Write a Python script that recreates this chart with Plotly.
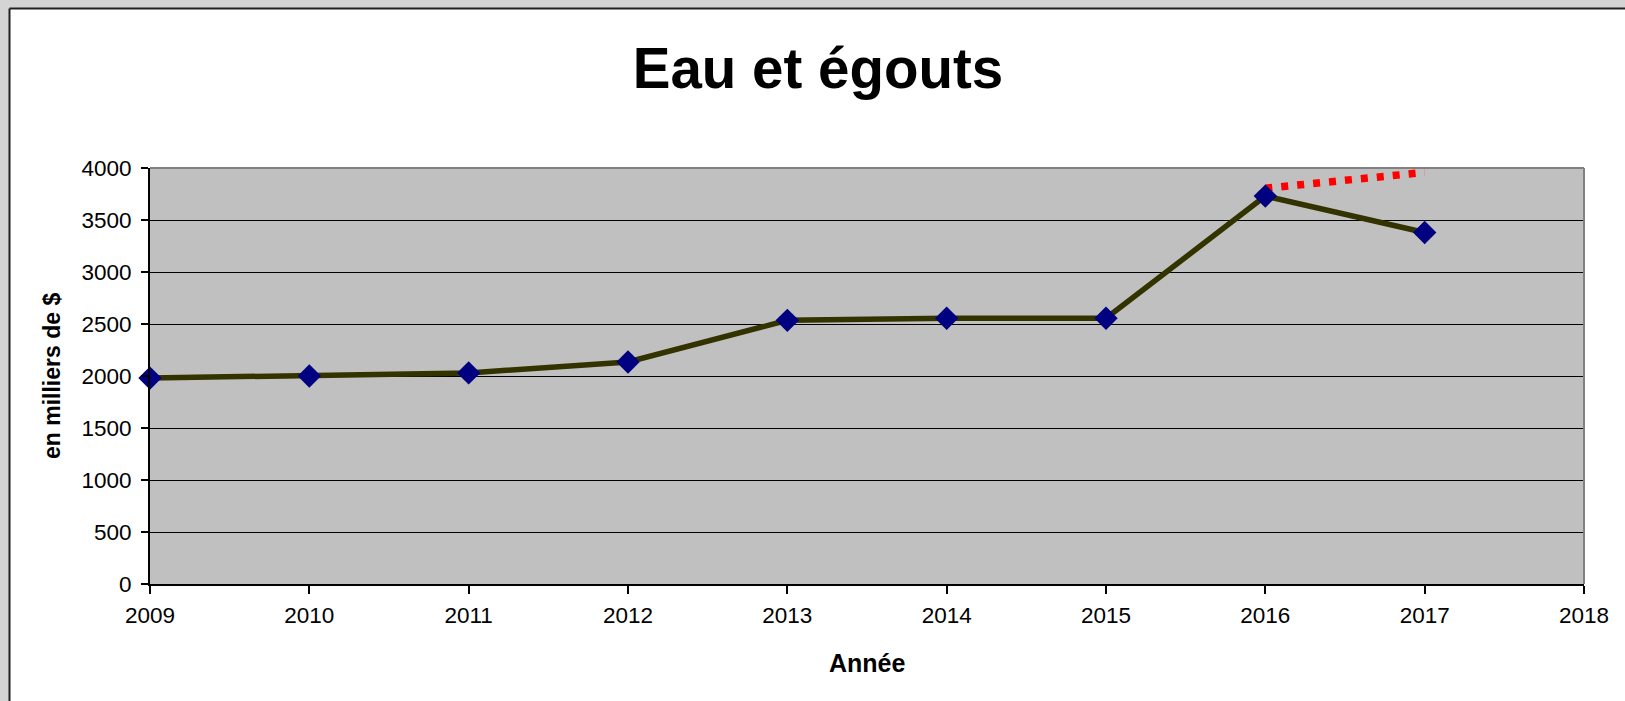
import plotly.graph_objects as go

# ---- data ----
years = [2009, 2010, 2011, 2012, 2013, 2014, 2015, 2016, 2017]
values = [1980, 2000, 2030, 2135, 2535, 2555, 2555, 3730, 3380]
proj_years = [2016, 2017]
proj_values = [3805, 3958]

title_text = "Eau et égouts"
x_title = "Année"
y_title = "en milliers de $"

# ---- layout geometry (pixels) ----
W, H = 1625, 701
L, R, T, B = 150, 1584, 168, 584
PW, PH = R - L, B - T

def px_x(px):
    return (px - L) / PW

def px_y(py):
    return (B - py) / PH

FONT = "Arial, Liberation Sans, sans-serif"

fig = go.Figure()

fig.add_trace(go.Scatter(
    x=proj_years, y=proj_values, mode="lines",
    line=dict(color="#ff0000", width=7.5, dash="7px,9px"),
    hoverinfo="skip", showlegend=False,
))
fig.add_trace(go.Scatter(
    x=years, y=values, mode="lines+markers",
    line=dict(color="#333300", width=5.5),
    marker=dict(symbol="diamond", size=18, color="#000080",
                line=dict(width=0)),
    cliponaxis=False,
    showlegend=False,
))

shapes = [
    # grey window frame
    dict(type="rect", xref="paper", yref="paper",
         x0=px_x(-5), x1=px_x(W + 5), y0=px_y(-5), y1=px_y(8),
         fillcolor="#d4d4d4", line=dict(width=0), layer="below"),
    dict(type="rect", xref="paper", yref="paper",
         x0=px_x(-5), x1=px_x(9), y0=px_y(-5), y1=px_y(H + 5),
         fillcolor="#d4d4d4", line=dict(width=0), layer="below"),
    # black chart border
    dict(type="line", xref="paper", yref="paper",
         x0=px_x(9.5), x1=px_x(W + 5), y0=px_y(8.5), y1=px_y(8.5),
         line=dict(color="#202020", width=2), layer="below"),
    dict(type="line", xref="paper", yref="paper",
         x0=px_x(9.5), x1=px_x(9.5), y0=px_y(8.5), y1=px_y(H + 5),
         line=dict(color="#202020", width=2), layer="below"),
    # grey plot-area border (top, right)
    dict(type="line", xref="paper", yref="paper",
         x0=0, x1=1, y0=1, y1=1,
         line=dict(color="#808080", width=2), layer="above"),
    dict(type="line", xref="paper", yref="paper",
         x0=1, x1=1, y0=0, y1=1,
         line=dict(color="#808080", width=2), layer="above"),
]

annotations = [
    dict(text=f"<b>{x_title}</b>", xref="paper", yref="paper",
         x=0.5, y=px_y(663), xanchor="center", yanchor="middle",
         showarrow=False, font=dict(family=FONT, size=25, color="black")),
    dict(text=f"<b>{y_title}</b>", xref="paper", yref="paper",
         x=px_x(52), y=0.5, xanchor="center", yanchor="middle",
         textangle=-90, showarrow=False,
         font=dict(family=FONT, size=23, color="black")),
]

fig.update_layout(
    width=W, height=H,
    margin=dict(l=L, r=W - R, t=T, b=H - B, pad=0),
    paper_bgcolor="white",
    plot_bgcolor="#c0c0c0",
    title=dict(text=f"<b>{title_text}</b>", xref="paper", x=px_x(818),
               xanchor="center", yref="container", y=1 - 68 / H,
               yanchor="middle",
               font=dict(family=FONT, size=56.5, color="black")),
    shapes=shapes,
    annotations=annotations,
    font=dict(family=FONT, color="black"),
)

fig.update_xaxes(
    range=[2009, 2018], tickmode="linear", tick0=2009, dtick=1,
    showgrid=False, zeroline=False,
    showline=True, linecolor="black", linewidth=2,
    ticks="outside", ticklen=8, tickwidth=1.5, tickcolor="black",
    ticklabelstandoff=2,
    tickfont=dict(family=FONT, size=22.5, color="black"),
)
fig.update_yaxes(
    range=[0, 4000], tickmode="linear", tick0=0, dtick=500,
    showgrid=True, gridcolor="black", gridwidth=1,
    zeroline=False,
    showline=True, linecolor="black", linewidth=2,
    ticks="outside", ticklen=7, tickwidth=1.5, tickcolor="black",
    ticklabelstandoff=5,
    tickfont=dict(family=FONT, size=22.5, color="black"),
)

fig.write_html(
    "out.html",
    config={"displayModeBar": False},
    post_script="document.body.style.margin='0';document.body.style.overflow='hidden';",
)
